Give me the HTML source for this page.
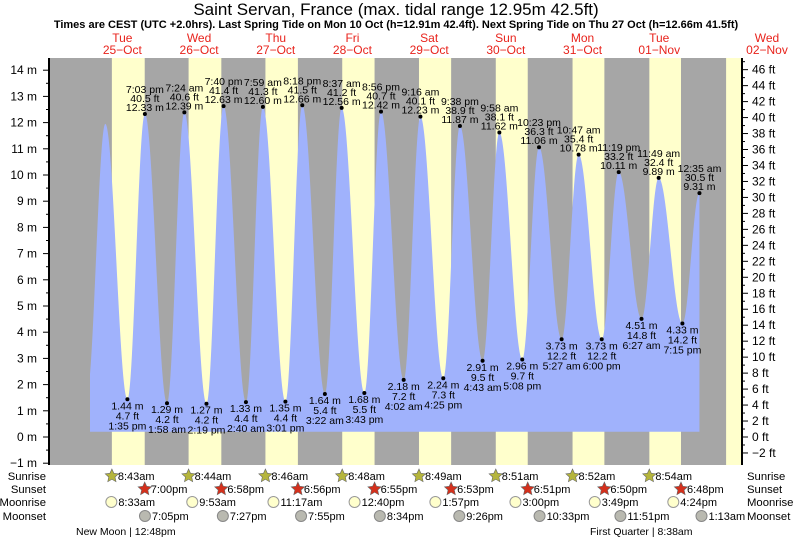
<!DOCTYPE html>
<html><head><meta charset="utf-8">
<style>
html,body{margin:0;padding:0;background:#fff;}
svg{display:block;font-family:"Liberation Sans",sans-serif;}
</style></head>
<body>
<svg id="chart" width="793" height="539" viewBox="0 0 793 539" xmlns="http://www.w3.org/2000/svg">
<text x="396" y="15" font-size="17" text-anchor="middle" fill="#000">Saint Servan, France (max. tidal range 12.95m 42.5ft)</text>
<text x="396" y="28" font-size="11" font-weight="bold" text-anchor="middle" fill="#000">Times are CEST (UTC +2.0hrs). Last Spring Tide on Mon 10 Oct (h=12.91m 42.4ft). Next Spring Tide on Thu 27 Oct (h=12.66m 41.5ft)</text>
<g id="bands"></g>
<g id="tide"></g>
<g id="axes"></g>
<g id="labels"></g>
<g id="astro"></g>
</svg>
<script>
// ---- data ----
const dayNames = ["Tue","Wed","Thu","Fri","Sat","Sun","Mon","Tue","Wed"];
const dayDates = ["25\u2212Oct","26\u2212Oct","27\u2212Oct","28\u2212Oct","29\u2212Oct","30\u2212Oct","31\u2212Oct","01\u2212Nov","02\u2212Nov"];
// extrema: hours since 25-Oct 00:00
const tideHours = [0.83,6.67,13.58,19.05,25.97,31.4,38.32,43.67,50.67,55.98,63.02,68.3,75.37,80.62,87.72,92.93,100.03,105.27,112.42,117.63,124.72,129.97,137.13,142.38,149.45,154.78,162.0,167.32,174.45,179.82,187.25,192.58];
const tideHeights = [1.6,11.95,1.44,12.33,1.29,12.39,1.27,12.63,1.33,12.60,1.35,12.66,1.64,12.56,1.68,12.42,2.18,12.23,2.24,11.87,2.91,11.62,2.96,11.06,3.73,10.78,3.73,10.11,4.51,9.89,4.33,9.31];
const tideFeet = ["","","4.7 ft","40.5 ft","4.2 ft","40.6 ft","4.2 ft","41.4 ft","4.4 ft","41.3 ft","4.4 ft","41.5 ft","5.4 ft","41.2 ft","5.5 ft","40.7 ft","7.2 ft","40.1 ft","7.3 ft","38.9 ft","9.5 ft","38.1 ft","9.7 ft","36.3 ft","12.2 ft","35.4 ft","12.2 ft","33.2 ft","14.8 ft","32.4 ft","14.2 ft","30.5 ft"];
const tideTimes = ["","","1:35 pm","7:03 pm","1:58 am","7:24 am","2:19 pm","7:40 pm","2:40 am","7:59 am","3:01 pm","8:18 pm","3:22 am","8:37 am","3:43 pm","8:56 pm","4:02 am","9:16 am","4:25 pm","9:38 pm","4:43 am","9:58 am","5:08 pm","10:23 pm","5:27 am","10:47 am","6:00 pm","11:19 pm","6:27 am","11:49 am","7:15 pm","12:35 am"];
const sunriseH = [8.72,8.73,8.77,8.8,8.82,8.85,8.87,8.9,8.92];
const sunsetH = [19.0,18.97,18.93,18.92,18.88,18.85,18.83,18.8];
const sunriseTxt = ["8:43am","8:44am","8:46am","8:48am","8:49am","8:51am","8:52am","8:54am"];
const sunsetTxt = ["7:00pm","6:58pm","6:56pm","6:55pm","6:53pm","6:51pm","6:50pm","6:48pm"];
const moonriseH = [8.55,33.88,59.28,84.67,109.95,135.0,159.82,184.4];
const moonriseTxt = ["8:33am","9:53am","11:17am","12:40pm","1:57pm","3:00pm","3:49pm","4:24pm"];
const moonsetH = [19.08,43.45,67.92,92.57,117.43,142.55,167.85,193.22];
const moonsetTxt = ["7:05pm","7:27pm","7:55pm","8:34pm","9:26pm","10:33pm","11:51pm","1:13am"];
const mTicks = [-1,0,1,2,3,4,5,6,7,8,9,10,11,12,13,14];
const ftTicks = [-2,0,2,4,6,8,10,12,14,16,18,20,22,24,26,28,30,32,34,36,38,40,42,44,46];

// ---- scales ----
const X0=49, X1=742, YT=58, YB=465;
const mid0=84, dayW=76.7;
function xs(h){return mid0+h/24*dayW;}
function ys(m){return 437-m*26.2;}
const NS="http://www.w3.org/2000/svg";
function mk(tag,attrs,parent,txt){const e=document.createElementNS(NS,tag);for(const k in attrs)e.setAttribute(k,attrs[k]);if(txt!==undefined)e.textContent=txt;parent.appendChild(e);return e;}
const bands=document.getElementById('bands'),tide=document.getElementById('tide'),axes=document.getElementById('axes'),labels=document.getElementById('labels'),astro=document.getElementById('astro'),svg=document.getElementById('chart');

let bg=mk('rect',{x:X0,y:YT,width:X1-X0,height:YB-YT,fill:'#a6a6a6'},bands);


for(let d=0;d<9;d++){
  const sr=xs(d*24+sunriseH[d]);
  const ss=d<8?xs(d*24+sunsetH[d]):X1;
  let r=mk('rect',{x:sr,y:YT,width:Math.min(ss,X1)-sr,height:YB-YT,fill:'#ffffcc'},bands);
  
  
  const lx=d<8?xs(d*24+12):767;
  let t1=mk('text',{x:lx,y:42,'font-size':12,'text-anchor':'middle',fill:'#e8231c'},bands,dayNames[d]);
  
  
  let t2=mk('text',{x:lx,y:54,'font-size':12,'text-anchor':'middle',fill:'#e8231c'},bands,dayDates[d]);
  
  
}

function hAt(h){
  for(let i=0;i<tideHours.length-1;i++){
    if(h>=tideHours[i]&&h<=tideHours[i+1]){
      const f=(h-tideHours[i])/(tideHours[i+1]-tideHours[i]);
      const w=(1-Math.cos(Math.PI*f))/2;
      return tideHeights[i]+(tideHeights[i+1]-tideHeights[i])*w;
    }
  }
  return tideHeights[tideHeights.length-1];
}
const hStart=(90-mid0)/dayW*24, hEnd=tideHours[tideHours.length-1];
let pts=[];
for(let h=hStart;h<=hEnd;h+=0.1){pts.push(xs(h).toFixed(2)+','+ys(hAt(h)).toFixed(2));}
pts.push(xs(hEnd).toFixed(2)+','+ys(hAt(hEnd)).toFixed(2));
const base=ys(0.2);
let d='M'+xs(hStart).toFixed(2)+','+base+' L'+pts.join(' L')+' L'+xs(hEnd).toFixed(2)+','+base+' Z';
let area=mk('path',{d:d,fill:'#a0b2fc'},tide);



mk('line',{x1:X0,y1:YT,x2:X0,y2:YB,stroke:'#000','stroke-width':2},axes);
mk('line',{x1:X1,y1:YT,x2:X1,y2:YB,stroke:'#000','stroke-width':2},axes);
mTicks.forEach(m=>{
  let tl=mk('line',{x1:X0-6,y1:ys(m),x2:X0,y2:ys(m),stroke:'#000'},axes);
  
  
  if(m<14){mk('line',{x1:X0-3,y1:ys(m+0.5),x2:X0,y2:ys(m+0.5),stroke:'#000'},axes);}
  let t=mk('text',{x:37,y:ys(m)+4,'font-size':12,'text-anchor':'end',fill:'#000'},axes,(m<0?'\u2212'+(-m):m)+' m');
  
  
});
ftTicks.forEach(f=>{
  const y=ys(f*0.3048);
  mk('line',{x1:X1,y1:y,x2:X1+6,y2:y,stroke:'#000'},axes);
  mk('line',{x1:X1,y1:ys((f+1)*0.3048),x2:X1+3,y2:ys((f+1)*0.3048),stroke:'#000'},axes);
  let t=mk('text',{x:752,y:y+4,'font-size':12,fill:'#000'},axes,(f<0?'\u2212'+(-f):f)+' ft');
  
  
});

for(let i=2;i<tideHours.length;i++){
  const x=xs(tideHours[i]), y=ys(tideHeights[i]);
  const high=tideHeights[i]>tideHeights[i-1];
  let dot=mk('circle',{cx:x,cy:y,r:2,fill:'#000'},labels);
  
  
  const lines=high?[tideTimes[i],tideFeet[i],tideHeights[i].toFixed(2)+' m']:[tideHeights[i].toFixed(2)+' m',tideFeet[i],tideTimes[i]];
  const offs=high?[-21,-12,-3]:[10,20,30];
  for(let k=0;k<3;k++){
    let t=mk('text',{x:x,y:y+offs[k],'font-size':10.5,'text-anchor':'middle',fill:'#000'},labels,lines[k]);
    
    
  }
}

const rowY={sr:480,ss:493,mr:506,ms:520};
[['Sunrise',rowY.sr],['Sunset',rowY.ss],['Moonrise',rowY.mr],['Moonset',rowY.ms]].forEach(r=>{
  let a=mk('text',{x:46,y:r[1],'font-size':11.3,'text-anchor':'end',fill:'#000'},astro,r[0]);
  
  
  let b=mk('text',{x:747,y:r[1],'font-size':11.3,fill:'#000'},astro,r[0]);
  
  
});
function star(cx,cy,fill){
  let p=[];for(let k=0;k<10;k++){const a=-Math.PI/2+k*Math.PI/5;const r=k%2?3.3:7;p.push((cx+r*Math.cos(a)).toFixed(1)+','+(cy+r*Math.sin(a)).toFixed(1));}
  return mk('polygon',{points:p.join(' '),fill:fill,stroke:'#666','stroke-width':0.6},astro);
}
for(let dd=0;dd<8;dd++){
  let s=star(xs(dd*24+sunriseH[dd]),rowY.sr-4,'#b5b53c');
  
  
  let t=mk('text',{x:xs(dd*24+sunriseH[dd])+6,y:rowY.sr,'font-size':11,fill:'#000'},astro,sunriseTxt[dd]);
  
  
  let s2=star(xs(dd*24+sunsetH[dd]),rowY.ss-4,'#d4301c');
  
  
  let t2=mk('text',{x:xs(dd*24+sunsetH[dd])+6,y:rowY.ss,'font-size':11,fill:'#000'},astro,sunsetTxt[dd]);
  
  
  let c=mk('circle',{cx:xs(moonriseH[dd]),cy:rowY.mr-4,r:5.5,fill:'#ffffcc',stroke:'#999'},astro);
  
  
  let t3=mk('text',{x:xs(moonriseH[dd])+7,y:rowY.mr,'font-size':11,fill:'#000'},astro,moonriseTxt[dd]);
  
  
  let c2=mk('circle',{cx:xs(moonsetH[dd]),cy:rowY.ms-4,r:5.5,fill:'#b9b9b0',stroke:'#888'},astro);
  
  
  let t4=mk('text',{x:xs(moonsetH[dd])+7,y:rowY.ms,'font-size':11,fill:'#000'},astro,moonsetTxt[dd]);
  
  
}
let nm=mk('text',{x:76,y:535,'font-size':10.5,fill:'#000'},astro,'New Moon | 12:48pm');


let fq=mk('text',{x:590,y:535,'font-size':10.5,fill:'#000'},astro,'First Quarter | 8:38am');


</script>
</body></html>
